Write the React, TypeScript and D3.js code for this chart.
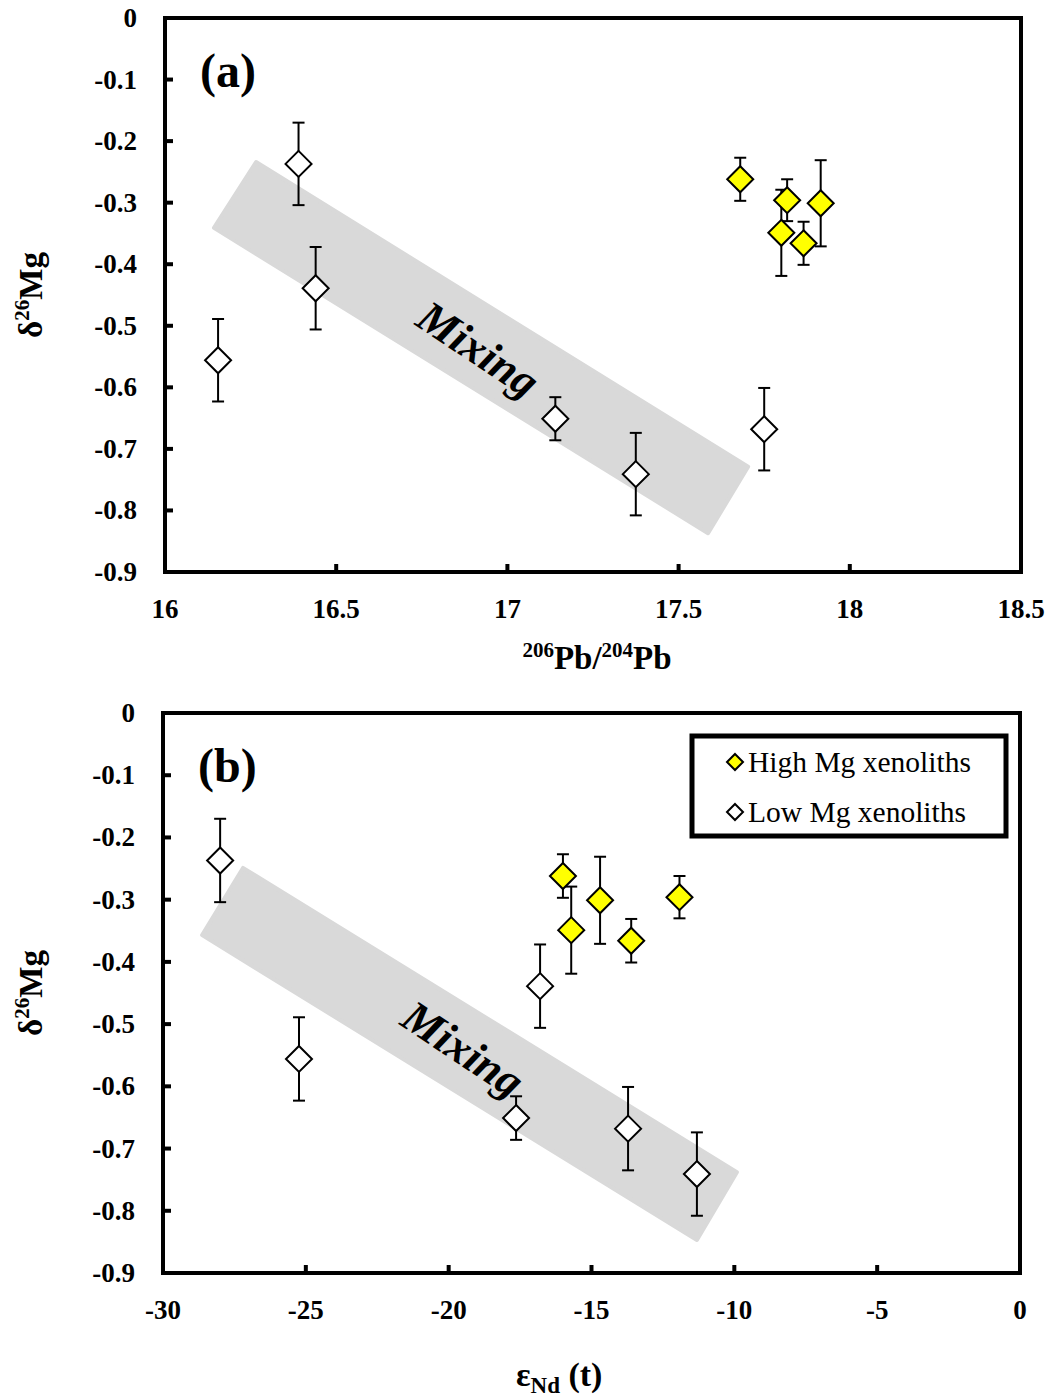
import * as d3 from "d3";

// δ26Mg vs 206Pb/204Pb and εNd(t), two panels
const yTicks = [0, -0.1, -0.2, -0.3, -0.4, -0.5, -0.6, -0.7, -0.8, -0.9];
const pbTicks = [16, 16.5, 17, 17.5, 18, 18.5];
const ndTicks = [-30, -25, -20, -15, -10, -5, 0];

// low Mg xenoliths
const lowPb = [16.155, 16.39, 16.44, 17.14, 17.375, 17.75];
const lowNd = [-25.24, -28.0, -16.8, -17.64, -11.31, -13.72];
const lowMg = [-0.556, -0.237, -0.439, -0.651, -0.741, -0.668];
const lowErr = [0.067, 0.067, 0.067, 0.035, 0.067, 0.067];

// high Mg xenoliths
const highPb = [17.68, 17.817, 17.8, 17.865, 17.915];
const highNd = [-16.0, -11.92, -15.71, -13.61, -14.7];
const highMg = [-0.262, -0.296, -0.349, -0.366, -0.301];
const highErr = [0.035, 0.034, 0.07, 0.035, 0.07];

// mixing bands (data coords)
const bandPb = [
  [16.266, -0.234],
  [16.143, -0.341],
  [17.586, -0.837],
  [17.703, -0.729],
];
const bandNd = [
  [-27.2, -0.249],
  [-28.63, -0.357],
  [-11.31, -0.847],
  [-9.91, -0.738],
];

const serif = "'Liberation Serif', 'Times New Roman', serif";

function Diamond({ x, y, r, fill }) {
  return (
    <path
      d={`M${x},${y - r}L${x + r},${y}L${x},${y + r}L${x - r},${y}Z`}
      fill={fill}
      stroke="#000"
      strokeWidth={2}
      strokeLinejoin="miter"
    />
  );
}

function Panel({ x0, x1, y0, y1, xDomain, xTicks, lowX, highX, band, label, mixAt, xTitle, legend }) {
  const x = d3.scaleLinear().domain(xDomain).range([x0, x1]);
  const y = d3.scaleLinear().domain([0, -0.9]).range([y0, y1]);
  const bandPts = band.map((p) => [x(p[0]), y(p[1])]);
  const mid = [x(mixAt[0]), y(mixAt[1])];
  const ang =
    (Math.atan2(bandPts[2][1] - bandPts[1][1], bandPts[2][0] - bandPts[1][0]) * 180) / Math.PI + 2;

  const bars = (xs, ys, es) =>
    xs.map((v, i) => {
      const cx = x(v);
      const top = y(ys[i] + es[i]);
      const bot = y(ys[i] - es[i]);
      return (
        <g key={i} stroke="#000" strokeWidth={2}>
          <line x1={cx} x2={cx} y1={top} y2={bot} />
          <line x1={cx - 6} x2={cx + 6} y1={top} y2={top} />
          <line x1={cx - 6} x2={cx + 6} y1={bot} y2={bot} />
        </g>
      );
    });

  return (
    <g fontFamily={serif}>
      <path
        d={d3.line()(bandPts) + "Z"}
        fill="#d9d9d9"
        stroke="#d9d9d9"
        strokeWidth={4}
        strokeLinejoin="round"
      />
      <text
        transform={`translate(${mid[0]},${mid[1]}) rotate(${ang})`}
        textAnchor="middle"
        dominantBaseline="central"
        fontSize={45}
        fontWeight="bold"
        fontStyle="italic"
      >
        Mixing
      </text>
      {bars(lowX, lowMg, lowErr)}
      {bars(highX, highMg, highErr)}
      {lowX.map((v, i) => (
        <Diamond key={"l" + i} x={x(v)} y={y(lowMg[i])} r={13} fill="#fff" />
      ))}
      {highX.map((v, i) => (
        <Diamond key={"h" + i} x={x(v)} y={y(highMg[i])} r={13} fill="#ffff00" />
      ))}

      {/* frame + inward ticks */}
      <rect x={x0} y={y0} width={x1 - x0} height={y1 - y0} fill="none" stroke="#000" strokeWidth={4} />
      {yTicks.map((t) => (
        <g key={t}>
          <line x1={x0} x2={x0 + 8} y1={y(t)} y2={y(t)} stroke="#000" strokeWidth={4} />
          <text x={x0 - 28} y={y(t)} textAnchor="end" dominantBaseline="central" fontSize={27} fontWeight="bold">
            {t === 0 ? "0" : t.toFixed(1)}
          </text>
        </g>
      ))}
      {xTicks.map((t) => (
        <g key={t}>
          <line x1={x(t)} x2={x(t)} y1={y1} y2={y1 - 8} stroke="#000" strokeWidth={4} />
          <text x={x(t)} y={y1 + 37} textAnchor="middle" dominantBaseline="central" fontSize={27} fontWeight="bold">
            {String(t)}
          </text>
        </g>
      ))}

      <text x={x0 + 35} y={y0 + 52} fontSize={48} fontWeight="bold" dominantBaseline="central">
        {label}
      </text>

      <text
        transform={`translate(42,${(y0 + y1) / 2}) rotate(-90)`}
        textAnchor="middle"
        fontSize={33}
        fontWeight="bold"
      >
        δ<tspan fontSize={21} dy={-13}>26</tspan>
        <tspan dy={13}>Mg</tspan>
      </text>
      {xTitle}
      {legend}
    </g>
  );
}

export default function App() {
  const legend = (
    <g>
      <rect x={692} y={736} width={314} height={100} fill="#fff" stroke="#000" strokeWidth={5} />
      <Diamond x={735} y={762} r={8} fill="#ffff00" />
      <text x={748} y={762} fontSize={29.5} dominantBaseline="central" fontFamily={serif}>
        High Mg xenoliths
      </text>
      <Diamond x={735} y={812} r={8} fill="#fff" />
      <text x={748} y={812} fontSize={29.5} dominantBaseline="central" fontFamily={serif}>
        Low Mg xenoliths
      </text>
    </g>
  );
  return (
    <svg width={1052} height={1397} style={{ position: "absolute", left: 0, top: 0, background: "#fff" }}>
      <Panel
        x0={165}
        x1={1021}
        y0={18}
        y1={572}
        xDomain={[16, 18.5]}
        xTicks={pbTicks}
        lowX={lowPb}
        highX={highPb}
        band={bandPb}
        label="(a)"
        mixAt={[16.915, -0.538]}
        xTitle={
          <text x={597} y={669} textAnchor="middle" fontSize={33} fontWeight="bold">
            <tspan fontSize={21} dy={-12}>206</tspan>
            <tspan dy={12}>Pb/</tspan>
            <tspan fontSize={21} dy={-12}>204</tspan>
            <tspan dy={12}>Pb</tspan>
          </text>
        }
      />
      <Panel
        x0={163}
        x1={1020}
        y0={713}
        y1={1273}
        xDomain={[-30, 0]}
        xTicks={ndTicks}
        lowX={lowNd}
        highX={highNd}
        band={bandNd}
        label="(b)"
        mixAt={[-19.5, -0.54]}
        legend={legend}
        xTitle={
          <text x={516} y={1386} fontSize={34} fontWeight="bold">
            ε<tspan fontSize={23} dy={7}>Nd</tspan>
            <tspan dy={-7}> (t)</tspan>
          </text>
        }
      />
    </svg>
  );
}
